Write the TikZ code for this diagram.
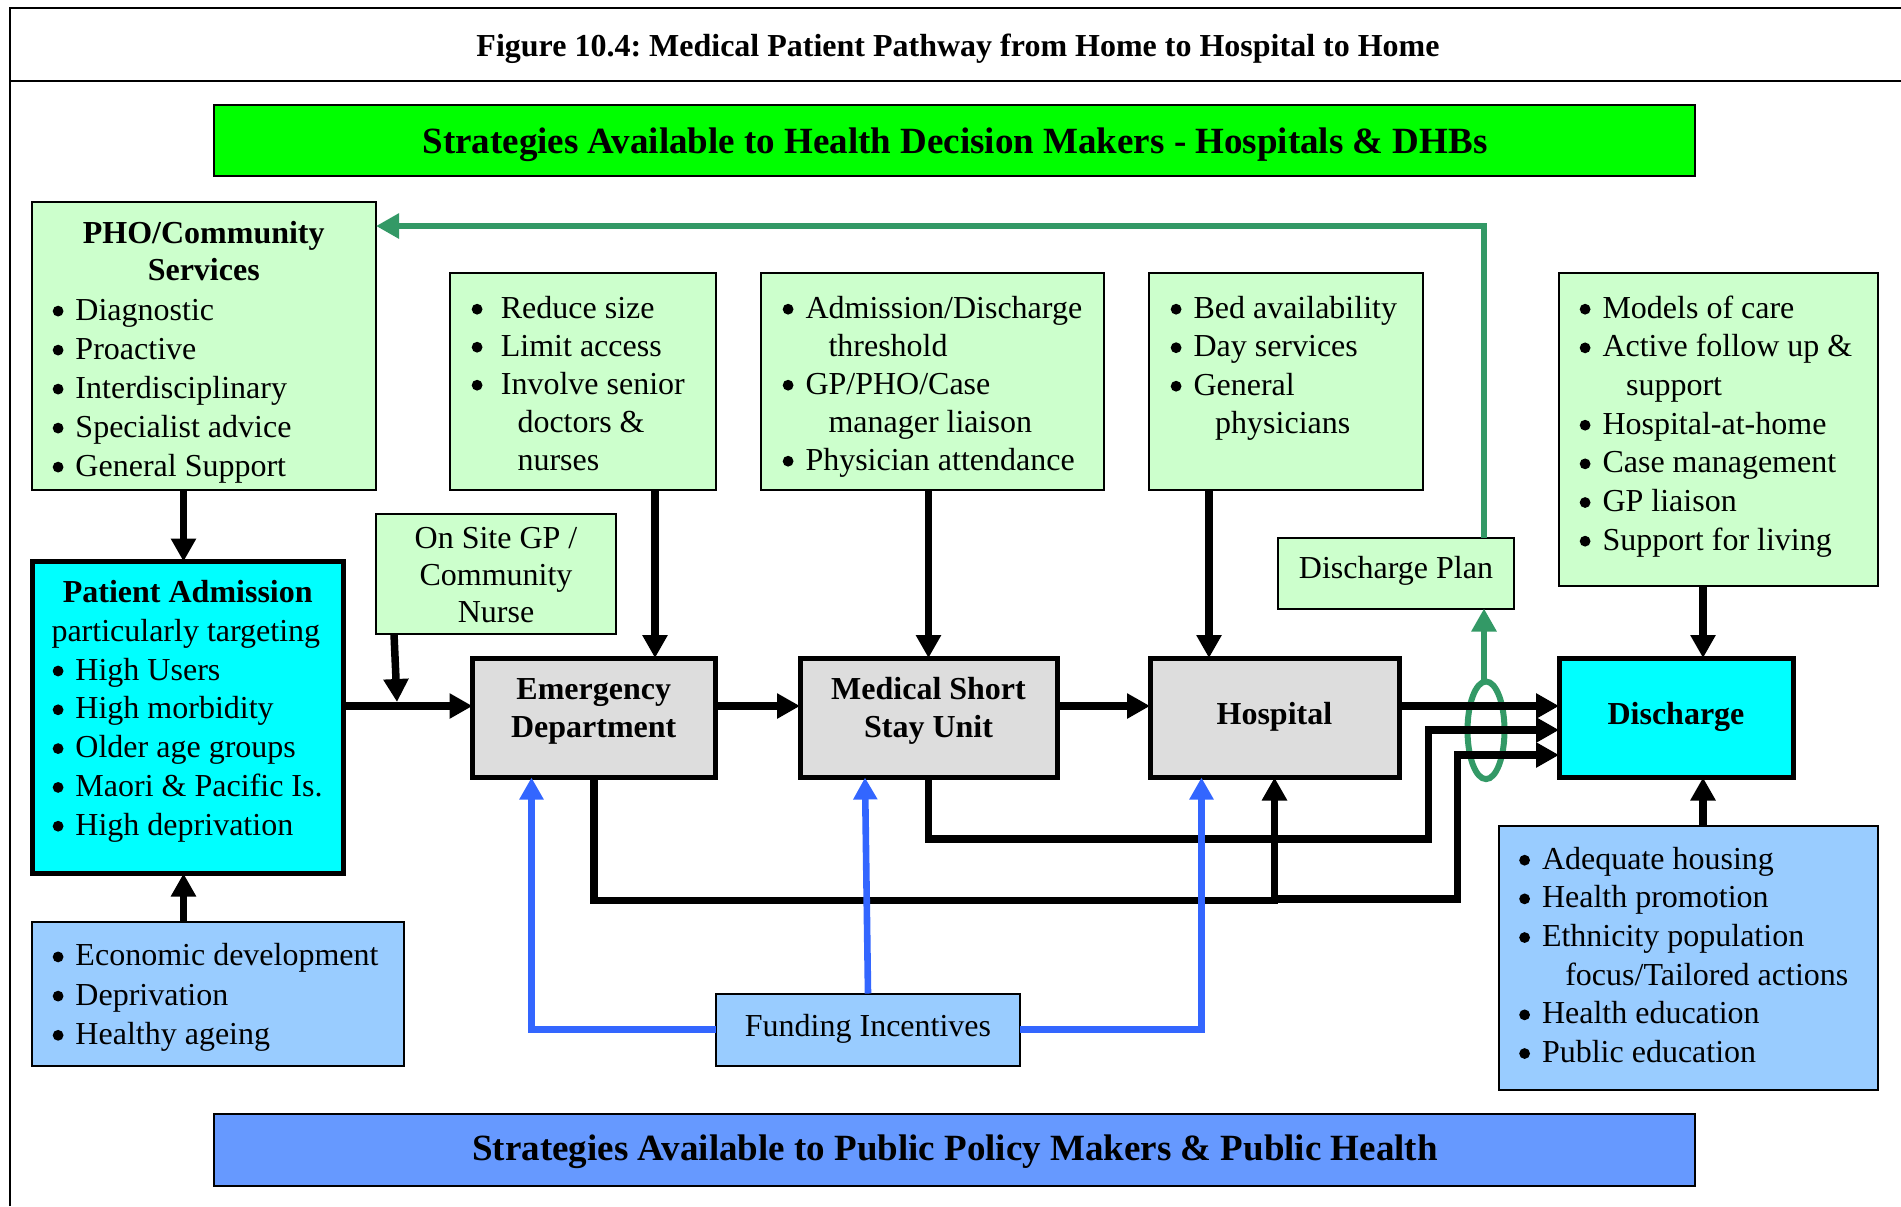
\documentclass[tikz,border=0pt]{standalone}
\usepackage{fontspec}
\setmainfont{Liberation Serif}
\usetikzlibrary{arrows.meta,fit,shapes.geometric}
\frenchspacing

\definecolor{lgreen}{HTML}{CCFFCC}
\definecolor{cyanbox}{HTML}{00FFFF}
\definecolor{graybox}{HTML}{DDDDDD}
\definecolor{lblue}{HTML}{99CCFF}
\definecolor{bangreen}{HTML}{00FF00}
\definecolor{banblue}{HTML}{6699FF}
\definecolor{arrgreen}{HTML}{339966}
\definecolor{arrblue}{HTML}{3366FF}

\newcommand\st{\rule{0pt}{13.6pt}}
\newcommand\bdot{\tikz[baseline=0pt]\fill (2.7pt,4.5pt) circle[radius=2.7pt];}
\newcommand\bl[1]{\makebox[12pt][l]{\hspace{0.6pt}\bdot}#1}
\newcommand\blw[1]{\makebox[15.2pt][l]{\hspace{0.6pt}\bdot}#1}
\newcommand\fs[1]{\fontsize{16}{#1}\selectfont}

\tikzset{
  thinbox/.style={draw=black, line width=1pt, inner sep=0pt, outer sep=0pt},
  lgbox/.style={thinbox, fill=lgreen},
  lbbox/.style={thinbox, fill=lblue},
  thickbox/.style={draw=black, line width=2.5pt, inner sep=0pt, outer sep=0pt},
  cybox/.style={thickbox, fill=cyanbox},
  grbox/.style={thickbox, fill=graybox},
  txt/.style={inner sep=0pt, outer sep=0pt, align=left, anchor=north west},
  ctxt/.style={inner sep=0pt, outer sep=0pt, align=center, anchor=north},
  lbl/.style={inner sep=0pt, outer sep=0pt, anchor=base},
  barrow/.style={draw=black, line width=3.75pt, -{Triangle[length=11.5pt,width=12pt]}},
  garrow/.style={draw=arrgreen, line width=3.2pt, -{Triangle[length=11.5pt,width=12pt]}},
  blarrow/.style={draw=arrblue, line width=3.3pt, -{Triangle[length=11pt,width=11.5pt]}},
}

\begin{document}
\begin{tikzpicture}[x=0.5pt, y=-0.5pt]
\useasboundingbox (0,0) rectangle (1901,1206);
% frame
\draw[line width=1.25pt] (10,1206) -- (10,8) -- (1901,8);
\draw[line width=1.25pt] (10,81) -- (1901,81);
\node[lbl, font=\bfseries\fs{19}] (title) at (958,56.6) {Figure 10.4: Medical Patient Pathway from Home to Hospital to Home};

% banners
\node[thinbox, line width=1.2pt, fill=bangreen, fit={(214,105) (1695,176)}] (topban) {};
\node[lbl, font=\bfseries\fontsize{18.5}{22}\selectfont] (topbanT) at (955,153) {Strategies Available to Health Decision Makers - Hospitals \& DHBs};
\node[thinbox, line width=1.2pt, fill=banblue, fit={(214,1114) (1695,1186)}] (botban) {};
\node[lbl, font=\bfseries\fontsize{18.5}{22}\selectfont] (botbanT) at (955,1160.5) {Strategies Available to Public Policy Makers \& Public Health};

% top strategy boxes
\node[lgbox, fit={(31.5,202) (376,490)}] (pho) {};
\node[lgbox, fit={(450,273) (716,490)}] (reduce) {};
\node[lgbox, fit={(761,273) (1104,490)}] (adm) {};
\node[lgbox, fit={(1149,273) (1423,490)}] (bed) {};
\node[lgbox, fit={(1559,273) (1878,585.5)}] (models) {};
\node[lgbox, fit={(376,513.6) (616,634)}] (onsite) {};
\node[lgbox, fit={(1278,538) (1514,608.5)}] (dplan) {};

% pathway boxes
\node[cybox, fit={(32,561.5) (343,873.5)}] (pa) {};
\node[grbox, fit={(472.5,658) (715,777.5)}] (ed) {};
\node[grbox, fit={(800,658) (1057,777.5)}] (mssu) {};
\node[grbox, fit={(1150,658) (1399,777.5)}] (hosp) {};
\node[cybox, fit={(1559,658) (1793.5,777.5)}] (dis) {};

% lower boxes
\node[lbbox, fit={(31.5,921.6) (403.6,1066)}] (econ) {};
\node[lbbox, fit={(716,993.5) (1020,1066)}] (fund) {};
\node[lbbox, fit={(1498.5,826) (1878,1090)}] (lr) {};

% texts
\node[ctxt, font=\bfseries\fs{18.35}] (phoTitle) at (203.75,216.5) {\st PHO/Community\\Services};
\node[txt, font=\fs{19.5}] (phoL) at (51.5,292.9) {\st\bl{Diagnostic}\\\bl{Proactive}\\\bl{Interdisciplinary}\\\bl{Specialist advice}\\\bl{General Support}};
\node[txt, font=\fs{19}] (reduceL) at (470.5,291) {\st\blw{Reduce size}\\\blw{Limit access}\\\blw{Involve senior}\\\hspace*{23.5pt}doctors \&\\\hspace*{23.5pt}nurses};
\node[txt, font=\fs{19}] (admL) at (781.5,291) {\st\bl{Admission/Discharge}\\\hspace*{23.5pt}threshold\\\bl{GP/PHO/Case}\\\hspace*{23.5pt}manager liaison\\\bl{Physician attendance}};
\node[txt, font=\fs{19.25}] (bedL) at (1169.5,291) {\st\bl{Bed availability}\\\bl{Day services}\\\bl{General}\\\hspace*{22.85pt}physicians};
\node[txt, font=\fs{19.33}] (modelsL) at (1578.5,291) {\st\bl{Models of care}\\\bl{Active follow up \&}\\\hspace*{23.8pt}support\\\bl{Hospital-at-home}\\\bl{Case management}\\\bl{GP liaison}\\\bl{Support for living}};
\node[ctxt, font=\fs{18.4}] (onsiteT) at (496,521.5) {\st On Site GP /\\Community\\Nurse};
\node[lbl, font=\fs{19}] (dplanT) at (1396,578) {Discharge Plan};
\node[lbl, font=\bfseries\fs{19}] (paTitle) at (187.75,602.5) {Patient Admission};
\node[txt, font=\fs{19.4}] (paL) at (51.5,614) {\st particularly targeting\\\bl{High Users}\\\bl{High morbidity}\\\bl{Older age groups}\\\bl{Maori \& Pacific Is.}\\\bl{High deprivation}};
\node[ctxt, font=\bfseries\fs{19.35}] (edT) at (593.75,671.9) {\st Emergency\\Department};
\node[ctxt, font=\bfseries\fs{19.35}] (mssuT) at (928.5,671.9) {\st Medical Short\\Stay Unit};
\node[lbl, font=\bfseries\fs{19}] (hospT) at (1274.4,724.2) {Hospital};
\node[lbl, font=\bfseries\fs{19}] (disT) at (1676,724.2) {Discharge};
\node[lbl, font=\fs{19}] (fundT) at (868,1036) {Funding Incentives};
\node[txt, font=\fs{19.6}] (econL) at (51.5,938.7) {\st\bl{Economic development}\\\bl{Deprivation}\\\bl{Healthy ageing}};
\node[txt, font=\fs{19.33}] (lrL) at (1518,842) {\st\bl{Adequate housing}\\\bl{Health promotion}\\\bl{Ethnicity population}\\\hspace*{23.65pt}focus/Tailored actions\\\bl{Health education}\\\bl{Public education}};

% green ring and green arrows
\node[draw=arrgreen, line width=3pt, ellipse, minimum width=18.5pt, minimum height=48.8pt, inner sep=0pt, outer sep=0pt] (ring) at (1486,730.3) {};
\draw[garrow] ([xshift=-1pt]ring.north) -- ([xshift=-1pt]ring.north |- dplan.south);
\draw[garrow] ([xshift=-1pt]ring.north |- dplan.north) |- (pho.east |- 0,226);

% black arrows
\draw[barrow] ([xshift=-2pt]pa.north |- pho.south) -- ([xshift=-2pt]pa.north);
\draw[barrow] ([xshift=-2pt]pa.south |- econ.north) -- ([xshift=-2pt]pa.south);
\draw[barrow] (pa.east |- 0,706) -- (ed.west |- 0,706);
\coordinate (osjoin) at (397,702);
\draw[barrow] ([xshift=9pt]onsite.south west) -- (osjoin);
\draw[barrow] (655,0 |- reduce.south) -- (655,0 |- ed.north);
\draw[barrow] (mssu.north |- adm.south) -- (mssu.north);
\draw[barrow] (1209,0 |- bed.south) -- (1209,0 |- hosp.north);
\draw[barrow] (1703,0 |- models.south) -- (1703,0 |- dis.north);
\draw[barrow] (1703,0 |- lr.north) -- (1703,0 |- dis.south);
\draw[barrow] (ed.east |- 0,706) -- (mssu.west |- 0,706);
\draw[barrow] (mssu.east |- 0,706) -- (hosp.west |- 0,706);
\draw[barrow] (hosp.east |- 0,706) -- (dis.west |- 0,706);
\draw[barrow] (mssu.south) |- (1428.5,839) |- (dis.west |- 0,730);
\draw[barrow] (ed.south) |- (hosp.south |- 0,900.7) -- (hosp.south);
\draw[barrow] (hosp.south |- 0,899) -| (1457.5,755) -- (dis.west |- 0,755);

% blue arrows
\draw[blarrow] (fund.west) -| (531.5,0 |- ed.south);
\draw[blarrow] (fund.east) -| (1201.5,0 |- hosp.south);
\draw[blarrow] (fund.north) -- ([xshift=-1.5pt]fund.north |- mssu.south);
\end{tikzpicture}
\end{document}
